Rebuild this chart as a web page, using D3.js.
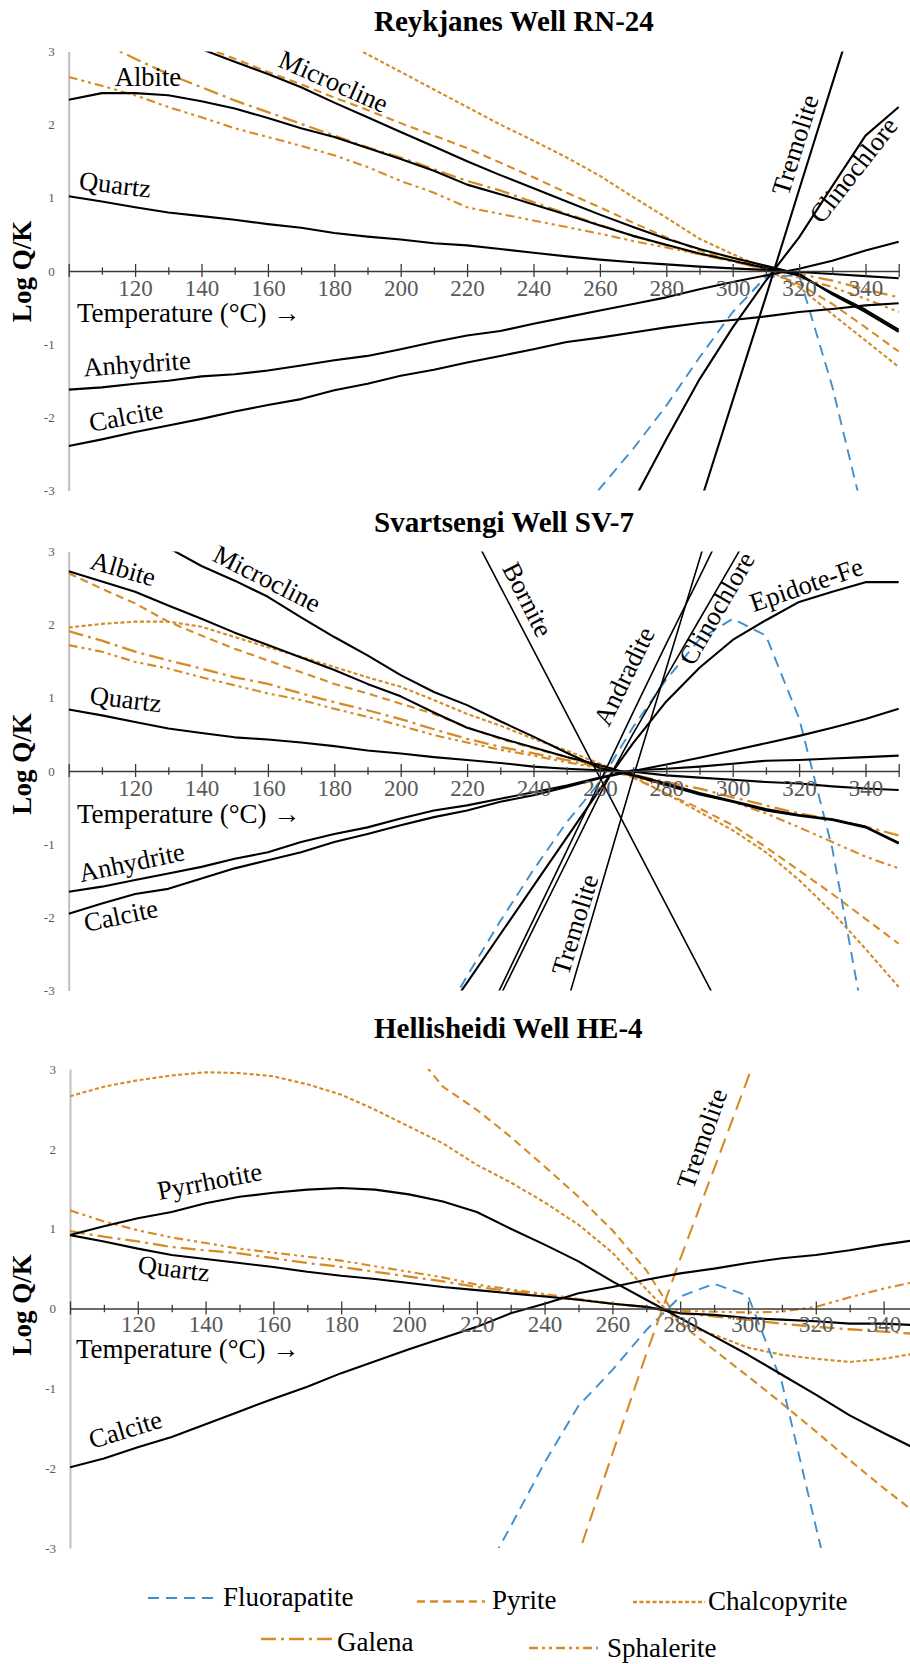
<!DOCTYPE html>
<html>
<head>
<meta charset="utf-8">
<script src="https://cdn.jsdelivr.net/npm/d3@7/dist/d3.min.js"></script>
<style>
  body { margin: 0; background: #fff; }
  svg { display: block; }
</style>
</head>
<body>
<svg id="chart" width="910" height="1664"></svg>
<script>
// Saturation indices (log Q/K) versus temperature, sampled every 10 °C
const temps = d3.range(100, 351, 10);

// ---- Reykjanes Well RN-24 ----
const rnQuartz = [1.02,0.95,0.87,0.80,0.75,0.70,0.64,0.59,0.52,0.47,0.43,0.38,0.35,0.30,0.25,0.20,0.155,0.12,0.09,0.06,0.036,0.014,-0.014,-0.04,-0.07,-0.10];
const rnAlbite = [2.34,2.43,2.43,2.40,2.32,2.22,2.09,1.95,1.83,1.68,1.53,1.37,1.18,1.05,0.91,0.77,0.62,0.48,0.36,0.24,0.14,0.04,-0.06,-0.30,-0.53,-0.80];
const rnMicrocline = [null,null,null,3.20,3.03,2.86,2.69,2.51,2.30,2.10,1.90,1.70,1.50,1.31,1.13,0.95,0.77,0.60,0.44,0.30,0.18,0.07,-0.04,-0.32,-0.56,-0.83];
const rnAnhydrite = [-1.62,-1.59,-1.54,-1.50,-1.44,-1.41,-1.36,-1.29,-1.22,-1.16,-1.07,-0.97,-0.88,-0.82,-0.72,-0.63,-0.54,-0.45,-0.36,-0.25,-0.15,-0.06,0.03,0.14,0.28,0.40];
const rnCalcite = [-2.39,-2.30,-2.20,-2.11,-2.02,-1.92,-1.83,-1.75,-1.63,-1.54,-1.43,-1.35,-1.25,-1.16,-1.07,-0.97,-0.91,-0.84,-0.77,-0.71,-0.67,-0.62,-0.56,-0.52,-0.47,-0.44];
const rnTremolite = [null,null,null,null,null,null,null,null,null,null,null,null,null,null,null,null,null,null,null,-3.20,-1.77,-0.35,1.11,2.56,4.00,null];
const rnClinochlore = [null,null,null,null,null,null,null,null,null,null,null,null,null,null,null,null,null,-3.15,-2.30,-1.48,-0.77,-0.13,0.46,1.16,1.85,2.24];
const rnFluorapatite = [null,null,null,null,null,null,null,null,null,null,null,null,null,null,null,-3.60,-2.97,-2.43,-1.84,-1.18,-0.56,-0.08,-0.06,-1.58,-3.45,null];
const rnPyrite = [null,null,null,3.25,3.07,2.90,2.72,2.55,2.37,2.20,2.02,1.85,1.68,1.48,1.28,1.07,0.87,0.66,0.46,0.28,0.14,0.01,-0.18,-0.45,-0.77,-1.10];
const rnChalcopyrite = [null,null,null,null,null,null,null,null,3.20,2.96,2.72,2.48,2.24,2.00,1.78,1.55,1.30,1.01,0.73,0.44,0.23,0.03,-0.22,-0.59,-0.95,-1.31];
const rnGalena = [null,3.12,2.90,2.69,2.51,2.33,2.17,2.01,1.85,1.69,1.55,1.39,1.23,1.10,0.94,0.78,0.63,0.48,0.35,0.23,0.13,0.03,-0.04,-0.13,-0.25,-0.36];
const rnSphalerite = [2.65,2.53,2.40,2.24,2.10,1.95,1.83,1.71,1.58,1.42,1.23,1.07,0.87,0.78,0.69,0.60,0.51,0.41,0.32,0.23,0.15,0.05,-0.09,-0.22,-0.38,-0.56];

// ---- Svartsengi Well SV-7 ----
const svQuartz = [0.84,0.76,0.67,0.58,0.52,0.46,0.43,0.39,0.34,0.28,0.24,0.19,0.15,0.11,0.06,0.03,0.01,-0.01,-0.06,-0.09,-0.12,-0.15,-0.17,-0.21,-0.24,-0.26];
const svAlbite = [2.73,2.59,2.45,2.26,2.08,1.89,1.72,1.55,1.38,1.19,1.02,0.80,0.59,0.45,0.32,0.19,0.08,-0.05,-0.17,-0.30,-0.41,-0.52,-0.60,-0.66,-0.76,-0.98];
const svMicrocline = [null,null,null,3.05,2.80,2.60,2.38,2.10,1.83,1.58,1.31,1.08,0.90,0.68,0.47,0.25,0.04,-0.06,-0.19,-0.32,-0.42,-0.54,-0.61,-0.67,-0.77,-0.99];
const svAnhydrite = [-1.65,-1.58,-1.49,-1.40,-1.31,-1.20,-1.11,-0.97,-0.86,-0.77,-0.65,-0.54,-0.47,-0.38,-0.29,-0.20,-0.09,0.01,0.03,0.06,0.10,0.14,0.15,0.17,0.19,0.21];
const svCalcite = [-1.95,-1.81,-1.68,-1.61,-1.47,-1.33,-1.22,-1.11,-0.97,-0.86,-0.74,-0.63,-0.54,-0.42,-0.33,-0.22,-0.10,0.00,0.09,0.18,0.28,0.38,0.48,0.59,0.71,0.85];
const svBornite = [null,null,null,null,null,null,null,null,null,null,null,4.26,3.39,2.52,1.65,0.78,-0.09,-0.96,-1.83,-2.70,-3.57,null,null,null,null,null];
const svAndradite = [null,null,null,null,null,null,null,null,null,null,null,null,-3.91,-2.97,-2.03,-1.09,-0.15,0.80,1.74,2.65,3.58,null,null,null,null,null];
const svClinochlore = [null,null,null,null,null,null,null,null,null,null,null,null,-3.98,-3.07,-2.15,-1.24,-0.32,0.51,1.29,2.07,2.85,3.63,null,null,null,null];
const svEpidoteFe = [null,null,null,null,null,null,null,null,null,null,null,-3.55,-2.89,-2.23,-1.57,-0.91,-0.25,0.38,0.95,1.41,1.79,2.06,2.31,2.45,2.58,2.58];
const svTremolite = [null,null,null,null,null,null,null,null,null,null,null,null,null,null,-4.70,-3.19,-1.64,-0.09,1.40,2.89,4.38,null,null,null,null,null];
const svFluorapatite = [null,null,null,null,null,null,null,null,null,null,null,-3.60,-2.80,-2.05,-1.35,-0.70,-0.15,0.60,1.25,1.80,2.08,1.85,0.72,-1.06,-3.55,null];
const svPyrite = [2.70,2.49,2.29,2.04,1.85,1.67,1.51,1.35,1.19,1.06,0.92,0.78,0.60,0.44,0.31,0.19,0.05,-0.09,-0.31,-0.51,-0.74,-1.04,-1.36,-1.68,-2.02,-2.36];
const svChalcopyrite = [1.96,2.01,2.04,2.04,1.97,1.83,1.69,1.56,1.42,1.28,1.15,0.97,0.78,0.62,0.44,0.28,0.10,-0.08,-0.31,-0.56,-0.81,-1.11,-1.49,-1.93,-2.43,-2.95];
const svGalena = [1.91,1.78,1.63,1.51,1.40,1.28,1.19,1.06,0.94,0.83,0.71,0.57,0.44,0.33,0.24,0.15,0.05,-0.05,-0.15,-0.24,-0.36,-0.47,-0.58,-0.66,-0.76,-0.88];
const svSphalerite = [1.72,1.63,1.49,1.40,1.28,1.17,1.06,0.97,0.85,0.74,0.62,0.49,0.39,0.29,0.21,0.12,0.04,-0.07,-0.20,-0.31,-0.42,-0.58,-0.77,-0.97,-1.17,-1.33];

// ---- Hellisheidi Well HE-4 ----
const heQuartz = [0.92,0.84,0.75,0.67,0.62,0.57,0.52,0.46,0.41,0.37,0.32,0.27,0.23,0.19,0.15,0.11,0.06,0.02,-0.06,-0.08,-0.12,-0.14,-0.16,-0.19,-0.19,-0.21];
const hePyrrhotite = [0.92,1.03,1.13,1.21,1.32,1.40,1.45,1.49,1.51,1.49,1.43,1.34,1.21,1.00,0.80,0.59,0.34,0.11,-0.12,-0.35,-0.58,-0.83,-1.08,-1.34,-1.56,-1.77];
const heCalcite = [-1.99,-1.88,-1.74,-1.61,-1.45,-1.29,-1.13,-0.98,-0.81,-0.66,-0.51,-0.37,-0.23,-0.06,0.06,0.19,0.27,0.36,0.44,0.50,0.57,0.63,0.67,0.73,0.80,0.86];
const heTremolite = [null,null,null,null,null,null,null,null,null,null,null,null,null,null,-4.30,-3.08,-1.82,-0.57,0.62,1.75,2.89,4.00,null,null,null,null];
const heFluorapatite = [null,null,null,null,null,null,null,null,null,null,null,null,-3.50,-2.73,-1.93,-1.22,-0.77,-0.27,0.15,0.31,0.16,-0.93,-2.73,-4.50,null,null];
const hePyrite = [null,null,null,null,null,null,null,null,null,null,3.30,2.78,2.49,2.15,1.78,1.40,0.98,0.48,-0.19,-0.52,-0.85,-1.19,-1.54,-1.90,-2.25,-2.58];
const heChalcopyrite = [2.66,2.78,2.86,2.92,2.96,2.95,2.91,2.81,2.68,2.49,2.28,2.07,1.80,1.58,1.33,1.05,0.70,0.24,-0.19,-0.33,-0.49,-0.58,-0.63,-0.67,-0.63,-0.56];
const heGalena = [0.97,0.90,0.84,0.77,0.73,0.69,0.63,0.57,0.52,0.46,0.40,0.34,0.27,0.22,0.16,0.11,0.06,0.02,-0.06,-0.10,-0.14,-0.19,-0.23,-0.26,-0.29,-0.32];
const heSphalerite = [1.23,1.09,0.98,0.89,0.82,0.75,0.70,0.65,0.60,0.53,0.46,0.39,0.30,0.24,0.18,0.12,0.06,0.02,-0.03,-0.04,-0.05,-0.04,0.02,0.14,0.25,0.34];

const yTicks = [-3, -2, -1, 0, 1, 2, 3];
const legendNames = ["Fluorapatite", "Pyrite", "Chalcopyrite", "Galena", "Sphalerite"];

// ---- styling ----
const SERIF = '"Liberation Serif", "Times New Roman", Times, serif';
const ORANGE = "#D68B26";
const BLUE = "#3F8FCD";
const lineStyles = {
  mineral:      { stroke: "#000", width: 2.1 },
  steep:        { stroke: "#000", width: 1.6 },
  Fluorapatite: { stroke: BLUE,   width: 1.9, dash: "11,7" },
  Pyrite:       { stroke: ORANGE, width: 2.1, dash: "8,5" },
  Chalcopyrite: { stroke: ORANGE, width: 2.1, dash: "4,2.5" },
  Galena:       { stroke: ORANGE, width: 2.3, dash: "15,5,3,5" },
  Sphalerite:   { stroke: ORANGE, width: 2.1, dash: "9,4,3,4,3,4" },
  orangeLong:   { stroke: ORANGE, width: 2.1, dash: "15,8" }
};

const panels = [
  {
    title: "Reykjanes Well RN-24", titleY: 31,
    xRange: [68.7, 898.7], yRange: [490.6, 51.4],
    tickY: 24.5, tempPos: [77, 321.7], logY: 271.5,
    series: [
      [rnChalcopyrite, "Chalcopyrite"], [rnPyrite, "Pyrite"], [rnGalena, "Galena"],
      [rnSphalerite, "Sphalerite"], [rnFluorapatite, "Fluorapatite"],
      [rnQuartz, "mineral"], [rnAlbite, "mineral"], [rnMicrocline, "mineral"],
      [rnAnhydrite, "mineral"], [rnCalcite, "mineral"], [rnTremolite, "mineral"], [rnClinochlore, "mineral"]
    ],
    labels: [
      ["Albite", 113.9, 2.53, 0], ["Microcline", 162.7, 2.80, 24], ["Quartz", 102.9, 1.12, 7],
      ["Anhydrite", 104.6, -1.44, -4], ["Calcite", 106.7, -2.20, -11],
      ["Tremolite", 316.7, 1.01, -72.6], ["Clinochlore", 326.9, 0.63, -52]
    ]
  },
  {
    title: "Svartsengi Well SV-7", titleY: 532,
    xRange: [68.7, 898.7], yRange: [990.6, 551.4],
    tickY: 24.5, tempPos: [77, 823], logY: 764,
    series: [
      [svChalcopyrite, "Chalcopyrite"], [svPyrite, "Pyrite"], [svGalena, "Galena"],
      [svSphalerite, "Sphalerite"], [svFluorapatite, "Fluorapatite"],
      [svQuartz, "mineral"], [svAlbite, "mineral"], [svMicrocline, "mineral"],
      [svAnhydrite, "mineral"], [svCalcite, "mineral"], [svEpidoteFe, "mineral"],
      [svBornite, "steep"], [svAndradite, "steep"], [svClinochlore, "steep"], [svTremolite, "steep"]
    ],
    labels: [
      ["Albite", 106.1, 2.77, 16], ["Microcline", 142.9, 2.88, 27], ["Quartz", 106.1, 0.92, 7],
      ["Anhydrite", 103.7, -1.52, -12], ["Calcite", 105.2, -2.20, -12],
      ["Bornite", 230.4, 2.77, 63], ["Andradite", 262.7, 0.59, -64],
      ["Clinochlore", 288.1, 1.42, -60], ["Epidote-Fe", 306.3, 2.17, -19],
      ["Tremolite", 250.5, -2.81, -73]
    ]
  },
  {
    title: "Hellisheidi Well HE-4", titleY: 1038,
    xRange: [70, 917.5], yRange: [1547.9, 1069.1],
    tickY: 23.5, tempPos: [76, 1358], logY: 1305,
    series: [
      [heChalcopyrite, "Chalcopyrite"], [hePyrite, "Pyrite"], [heGalena, "Galena"],
      [heSphalerite, "Sphalerite"], [heFluorapatite, "Fluorapatite"], [heTremolite, "orangeLong"],
      [heQuartz, "mineral"], [hePyrrhotite, "mineral"], [heCalcite, "mineral"]
    ],
    labels: [
      ["Pyrrhotite", 126.3, 1.36, -11], ["Quartz", 119.8, 0.445, 7],
      ["Calcite", 106.5, -1.76, -17], ["Tremolite", 283.8, 1.48, -70.5]
    ]
  }
];

const svg = d3.select("#chart");
svg.append("rect").attr("width", 910).attr("height", 1664).attr("fill", "#fff");
const defs = svg.append("defs");

panels.forEach((p, i) => {
  const x = d3.scaleLinear().domain([100, 350]).range(p.xRange);
  const y = d3.scaleLinear().domain([-3, 3]).range(p.yRange);
  const g = svg.append("g");

  // title
  g.append("text")
    .attr("x", 374).attr("y", p.titleY)
    .attr("font-family", SERIF).attr("font-size", 29).attr("font-weight", "bold")
    .text(p.title);

  // y axis: grey spine with small grey labels
  const ya = g.append("g")
    .attr("transform", `translate(${p.xRange[0]},0)`)
    .call(d3.axisLeft(y).tickValues(yTicks).tickSize(0).tickPadding(14).tickFormat(d => String(d)));
  ya.select(".domain").attr("stroke", "#BFBFBF").attr("stroke-width", 2);
  ya.selectAll(".tick text")
    .attr("fill", "#595959").attr("font-size", 13).attr("font-family", SERIF);

  // data lines, clipped to the plotting box
  const clipId = "plotClip" + i;
  defs.append("clipPath").attr("id", clipId).append("rect")
    .attr("x", p.xRange[0]).attr("y", p.yRange[1])
    .attr("width", p.xRange[1] - p.xRange[0] + 2)
    .attr("height", p.yRange[0] - p.yRange[1]);
  const plot = g.append("g").attr("clip-path", `url(#${clipId})`);
  const line = d3.line()
    .defined(d => d[1] != null)
    .x(d => x(d[0])).y(d => y(d[1]));

  // x axis along log Q/K = 0 with crossing tick marks
  const xa = g.append("g")
    .attr("transform", `translate(0,${y(0)})`)
    .call(d3.axisBottom(x).tickValues(temps).tickSize(0).tickSizeOuter(0)
      .tickFormat(d => (d % 20 === 0 && d > 100 && d < 350) ? String(d) : ""));
  xa.select(".domain").attr("stroke", "#3A3A3A").attr("stroke-width", 1.4);
  const isMajor = d => d === 100 || d === 350 || d % 20 === 0;
  xa.selectAll(".tick line")
    .attr("y1", d => isMajor(d) ? -7 : -3.7)
    .attr("y2", d => isMajor(d) ? 6 : 3.7)
    .attr("stroke", "#3A3A3A").attr("stroke-width", 1.3);
  xa.selectAll(".tick text")
    .attr("y", p.tickY).attr("dy", 0)
    .attr("fill", "#595959").attr("font-size", 23).attr("font-family", SERIF);

  p.series.forEach(([vals, key]) => {
    const s = lineStyles[key];
    plot.append("path")
      .datum(temps.map((t, k) => [t, vals[k]]))
      .attr("d", line)
      .attr("fill", "none")
      .attr("stroke", s.stroke)
      .attr("stroke-width", s.width)
      .attr("stroke-dasharray", s.dash || null)
      .attr("stroke-linejoin", "round");
  });

  // mineral names set along their curves
  p.labels.forEach(([txt, t, v, ang]) => {
    g.append("text")
      .attr("transform", `translate(${x(t)},${y(v)}) rotate(${ang})`)
      .attr("font-family", SERIF).attr("font-size", 26.5)
      .text(txt);
  });

  // axis captions
  g.append("text")
    .attr("x", p.tempPos[0]).attr("y", p.tempPos[1])
    .attr("font-family", SERIF).attr("font-size", 27)
    .text("Temperature (°C) →");
  g.append("text")
    .attr("transform", `translate(31,${p.logY}) rotate(-90)`)
    .attr("text-anchor", "middle")
    .attr("font-family", SERIF).attr("font-size", 27).attr("font-weight", "bold")
    .text("Log Q/K");
});

// legend
const legendPos = [
  { x1: 148, x2: 219, ly: 1598, tx: 223, ty: 1605.5 },
  { x1: 417, x2: 485, ly: 1601.5, tx: 492, ty: 1609 },
  { x1: 633, x2: 705, ly: 1602, tx: 708, ty: 1610 },
  { x1: 261, x2: 334, ly: 1639, tx: 337, ty: 1650.5 },
  { x1: 529, x2: 598, ly: 1648, tx: 607, ty: 1656.5 }
];
const lg = svg.append("g");
legendNames.forEach((name, k) => {
  const s = lineStyles[name], pos = legendPos[k];
  lg.append("line")
    .attr("x1", pos.x1).attr("x2", pos.x2).attr("y1", pos.ly).attr("y2", pos.ly)
    .attr("stroke", s.stroke).attr("stroke-width", s.width + 0.3)
    .attr("stroke-dasharray", s.dash);
  lg.append("text")
    .attr("x", pos.tx).attr("y", pos.ty)
    .attr("font-family", SERIF).attr("font-size", 27)
    .text(name);
});
</script>
</body>
</html>
